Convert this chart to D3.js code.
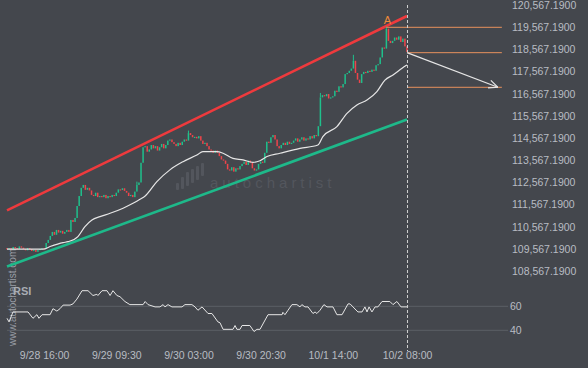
<!DOCTYPE html>
<html>
<head>
<meta charset="utf-8">
<script src="https://cdn.jsdelivr.net/npm/d3@7"></script>
<style>
  body { margin: 0; background: #44474d; }
  svg { display: block; font-family: "Liberation Sans", Arial, sans-serif; }
</style>
</head>
<body>
<svg id="chart" width="588" height="368"></svg>
<script>
// 30 minute bars, first one at 9/28 07:00
const startTime = new Date(2025, 8, 28, 7, 0);
const barMinutes = 30;

// candle closes (open = previous close)
const closes = [
  109560, 109600, 109520, 109650, 109600, 109560, 109680, 109620, 109560, 109500,
  109600, 109560, 109470, 109520, 109430, 109520, 109560, 109600, 109560,
  109830, 109970, 110150, 110330,
  110200, 110420, 110300, 110380, 110250, 110330,
  110420, 110330,
  110870, 110780, 110960,
  111500, 111950, 112320, 112450,
  112230, 112320, 112200,
  112000, 111950, 112100, 111900, 111950,
  111900, 112000, 111850, 111950, 111900, 112000,
  111950, 112100, 112250, 112220, 112300, 112180,
  112100, 111950, 112000, 111900, 112150, 112450, 112560,
  113450, 114150,
  114200, 113950, 114050, 114250, 114100, 114200, 114000, 114150, 114300, 114100, 114250,
  114450, 114500, 114380,
  114300, 114200, 114350, 114250, 114400,
  114500, 114450,
  114790, 114700,
  114600, 114620, 114550, 114650,
  114450, 114300, 114350, 114200,
  114050, 114000, 113900, 114000,
  113900, 113750, 113600,
  113550, 113400, 113150,
  113100, 113250, 113050, 113200, 113150, 113300,
  113400, 113500, 113350, 113550, 113450,
  113200, 113100, 113150,
  113400, 113500, 113450,
  113900, 114400,
  114350, 114600, 114700, 114500,
  114200, 114100, 114250,
  114350, 114250, 114400, 114300, 114350,
  114450, 114550, 114400, 114500, 114600, 114450, 114550,
  114500, 114650, 114550, 114700, 114650,
  115100, 116400,
  116500, 116450, 116550,
  116350, 116400, 116450,
  116700, 116650,
  116900, 116850, 117000,
  117450, 117500,
  117600, 117700, 118050,
  117500, 117200, 117050,
  117450, 117550, 117500,
  117600, 117550, 117650, 117600,
  117850, 117900,
  118200, 118650, 118600,
  119500,
  118950, 118850, 118950,
  119100, 119000,
  119150, 118900, 119050,
  118700, 118450
];
const firstOpen = 109600;

// a few visible upper wicks [bar, high]
const wicks = [[88, 114900], [168, 118320], [184, 119590], [63, 112600], [152, 116600]];

// moving average (white line), sampled [bar position, price]
const maBars = [0, 17.5, 20.9, 27.2, 29.6, 34.4, 37.8, 41.2, 45.1, 50, 56.3, 61.1, 64.5, 67, 72.7,
  79, 85.4, 92.1, 95, 101.8, 104.8, 109.6, 114.5, 119.3, 122.7, 126.1, 132.4, 142.1, 150.8, 153.2,
  160, 164.9, 169.7, 174.6, 179.4, 183.3, 187.2, 191.6, 194];
const maValues = [109550, 109550, 109670, 109850, 109890, 110120, 110570, 110870, 111020, 111170,
  111400, 111620, 111800, 111950, 112600, 113130, 113500, 113800, 113950, 113950,
  113880, 113650, 113580, 113470, 113540, 113730, 113880, 114100, 114250, 114630,
  115080, 115680, 116060, 116280, 116660, 117180, 117410, 117710, 117860];

// RSI panel
const rsiBars = [0, 1, 2.9, 10.2, 12.6, 14.5, 15.5, 17, 20.9, 22.3, 24.2, 25.7, 27.2, 30.6, 32,
  33.9, 36.4, 39.3, 41.7, 43.6, 44.1, 46.1, 48.5, 50, 51.4, 53.3, 54.8, 57.2, 59.6, 66,
  67, 68.4, 71.8, 74.2, 75.7, 76.6, 78.1, 80, 84.9, 86.3, 89.7, 91.2, 92.6, 94.6, 97.5,
  99.4, 102.3, 103.3, 104.8, 109.6, 110.6, 111.5, 113, 114, 117.8, 119.8, 121.2, 122.7, 126.6, 133.4,
  133.8, 134.8, 136.3, 138.2, 140.6, 142.1, 143, 144.5, 146, 148.4, 149.4, 150.3, 151.8, 153.7, 155.2,
  158.1, 160, 162.5, 165.4, 166.4, 167.8, 170.2, 172.2, 173.6, 174.6, 175.6, 177, 178.5, 179.9, 181.9,
  185.7, 187.2, 189.1, 191.1, 194];
const rsiValues = [50, 47, 55.3, 55.3, 50, 53, 50, 53, 53, 58, 56, 58, 61, 61, 62,
  66, 73, 73, 69, 70, 69, 73, 73, 69, 73, 69, 68, 64, 61.4, 61.4,
  64, 61.4, 59.5, 59.5, 61.4, 59.5, 61.4, 59.5, 59.5, 61.4, 61.4, 59.5, 56.7, 59.5, 54,
  54, 47, 46.3, 40.8, 40.8, 44, 40.8, 40.8, 44, 44, 39, 40.8, 40.8, 53, 53,
  55, 53, 56.7, 61.4, 61.4, 59.5, 61.4, 59.5, 59.5, 54, 55.3, 54, 56.7, 61.4, 59.5,
  59.5, 53, 53, 62, 62, 59.5, 55.3, 55.3, 59.5, 55.3, 59.5, 55.3, 59.5, 59.5, 64,
  64, 61.4, 64, 59.5, 59.5];

// axis labels
const priceTicks = [108567.19, 109567.19, 110567.19, 111567.19, 112567.19, 113567.19, 114567.19,
  115567.19, 116567.19, 117567.19, 118567.19, 119567.19, 120567.19];
const rsiTicks = [40, 60];
const timeTicks = ["2025-09-28 16:00", "2025-09-29 09:30", "2025-09-30 03:00",
  "2025-09-30 20:30", "2025-10-01 14:00", "2025-10-02 08:00"];

// pattern: rising channel (price at first bar, price at last bar)
const channelTop = [111300, 120070];
const channelBottom = [108770, 115400];
const peakBar = 184;
const peakLevel = 119561;
const lastLevel = 118416;
const targetLevel = 116855;
const projectionEnd = "2025-10-03 07:00";

// ---------------------------------------------------------------
const parse = d3.timeParse("%Y-%m-%d %H:%M");
const barTime = b => new Date(startTime.getTime() + b * barMinutes * 60000);
const lastBar = closes.length - 1;

const svg = d3.select("#chart");
const textColor = "#b8bcc3";

const x = d3.scaleTime()
  .domain([barTime(0), barTime(lastBar)])
  .range([7, 407]);

const y = d3.scaleLinear()
  .domain([108567.19, 120567.19])
  .range([271, 5]);

const yRsi = d3.scaleLinear()
  .domain([40, 60])
  .range([330.3, 306.3]);

// watermark
const wm = svg.append("g").attr("fill", "#53565d");
[[176, 183, 190], [181, 177, 189], [186, 172, 186], [191, 169, 183], [196, 166, 180], [201, 163, 176]]
  .forEach(d => wm.append("rect").attr("x", d[0]).attr("y", d[1]).attr("width", 3).attr("height", d[2] - d[1]).attr("rx", 1));
wm.append("text").attr("x", 210).attr("y", 188)
  .style("font-size", "15px").style("letter-spacing", "4px").text("autochartist");

svg.append("text")
  .attr("transform", "translate(16,346) rotate(-90)")
  .attr("fill", "#9a9ea5")
  .style("font-size", "10px")
  .text("www.autochartist.com");

// price axis
svg.append("g")
  .attr("transform", "translate(512,0)")
  .call(d3.axisRight(y).tickValues(priceTicks).tickSize(0).tickPadding(0).tickFormat(d3.format(",.4f")))
  .call(g => g.select(".domain").remove())
  .call(g => g.selectAll("text").attr("fill", textColor).style("font-size", "10.5px").style("font-family", "Liberation Sans, Arial, sans-serif"));

// channel lines
const lineGen = d3.line().x(d => x(d[0])).y(d => y(d[1]));
svg.append("path")
  .attr("d", lineGen([[barTime(0), channelBottom[0]], [barTime(lastBar), channelBottom[1]]]))
  .attr("stroke", "#1eb98a").attr("stroke-width", 2.6).attr("fill", "none");
svg.append("path")
  .attr("d", lineGen([[barTime(0), channelTop[0]], [barTime(lastBar), channelTop[1]]]))
  .attr("stroke", "#ee3a3d").attr("stroke-width", 2.6).attr("fill", "none");

// candles
const candles = closes.map((c, i) => ({ t: barTime(i), o: i ? closes[i - 1] : firstOpen, c }));
svg.append("g").selectAll("line")
  .data(wicks)
  .join("line")
  .attr("x1", d => x(barTime(d[0]))).attr("x2", d => x(barTime(d[0])))
  .attr("y1", d => y(d[1]))
  .attr("y2", d => y(Math.max(closes[d[0]], closes[d[0] - 1])))
  .attr("stroke", d => closes[d[0]] >= closes[d[0] - 1] ? "#1fc08c" : "#ef444a")
  .attr("stroke-width", 1);

svg.append("g").selectAll("rect")
  .data(candles)
  .join("rect")
  .attr("x", d => x(d.t) - 0.75)
  .attr("width", 1.5)
  .attr("y", d => y(Math.max(d.o, d.c)))
  .attr("height", d => Math.max(1.2, Math.abs(y(d.o) - y(d.c))))
  .attr("fill", d => d.c >= d.o ? "#1fc08c" : "#ef444a");

// moving average
svg.append("path")
  .datum(maBars.map((b, i) => [barTime(b), maValues[i]]))
  .attr("d", d3.line().x(d => x(d[0])).y(d => y(d[1])).curve(d3.curveMonotoneX))
  .attr("stroke", "#e6e6e6").attr("stroke-width", 1.2).attr("fill", "none");

// levels and forecast arrow
const xEnd = x(parse(projectionEnd));
const levelColor = "#e8925d";
svg.append("line")
  .attr("x1", x(barTime(peakBar))).attr("x2", xEnd)
  .attr("y1", y(peakLevel)).attr("y2", y(peakLevel))
  .attr("stroke", levelColor).attr("stroke-width", 1);
[lastLevel, targetLevel].forEach(v => {
  svg.append("line")
    .attr("x1", x(barTime(lastBar))).attr("x2", xEnd)
    .attr("y1", y(v)).attr("y2", y(v))
    .attr("stroke", levelColor).attr("stroke-width", 1);
});

svg.append("defs").append("marker")
  .attr("id", "head")
  .attr("viewBox", "0 0 10 10")
  .attr("refX", 10).attr("refY", 5)
  .attr("markerUnits", "userSpaceOnUse")
  .attr("markerWidth", 10).attr("markerHeight", 10)
  .attr("orient", "auto")
  .append("path")
  .attr("d", "M1,1 L10,5 L1,9")
  .attr("fill", "none").attr("stroke", "#e6e6e6").attr("stroke-width", 1.2);

svg.append("line")
  .attr("x1", x(barTime(lastBar))).attr("y1", y(lastLevel))
  .attr("x2", xEnd - 4).attr("y2", y(targetLevel))
  .attr("stroke", "#e6e6e6").attr("stroke-width", 1.2)
  .attr("marker-end", "url(#head)");

svg.append("text")
  .attr("x", x(barTime(peakBar)) + 1).attr("y", 24)
  .attr("text-anchor", "middle")
  .attr("fill", "#f08a3a")
  .style("font-size", "11px")
  .text("A");

// RSI panel
rsiTicks.forEach(v => {
  svg.append("line")
    .attr("x1", 7).attr("x2", 508)
    .attr("y1", yRsi(v)).attr("y2", yRsi(v))
    .attr("stroke", "#5c5f66").attr("stroke-width", 1);
});
svg.append("g")
  .attr("transform", "translate(510,0)")
  .call(d3.axisRight(yRsi).tickValues(rsiTicks).tickSize(0).tickPadding(0))
  .call(g => g.select(".domain").remove())
  .call(g => g.selectAll("text").attr("fill", textColor).style("font-size", "10.5px").style("font-family", "Liberation Sans, Arial, sans-serif"));

svg.append("text")
  .attr("x", 13).attr("y", 295)
  .attr("fill", "#a8acb3")
  .style("font-size", "11px").style("font-weight", "bold")
  .text("RSI");

svg.append("path")
  .datum(rsiBars.map((b, i) => [barTime(b), rsiValues[i]]))
  .attr("d", d3.line().x(d => x(d[0])).y(d => yRsi(d[1])))
  .attr("stroke", "#e6e6e6").attr("stroke-width", 1).attr("fill", "none");

// current bar marker
svg.append("line")
  .attr("x1", x(barTime(lastBar)) + 0.5).attr("x2", x(barTime(lastBar)) + 0.5)
  .attr("y1", 5).attr("y2", 351)
  .attr("stroke", "#cfcfcf").attr("stroke-width", 1).attr("stroke-dasharray", "3,2");

// time axis
svg.append("g")
  .attr("transform", "translate(0,352)")
  .call(d3.axisBottom(x).tickValues(timeTicks.map(parse)).tickSize(0).tickPadding(0).tickFormat(d3.timeFormat("%-m/%-d %H:%M")))
  .call(g => g.select(".domain").remove())
  .call(g => g.selectAll("text").attr("fill", textColor).style("font-size", "10.5px").style("font-family", "Liberation Sans, Arial, sans-serif"));
</script>
</body>
</html>
